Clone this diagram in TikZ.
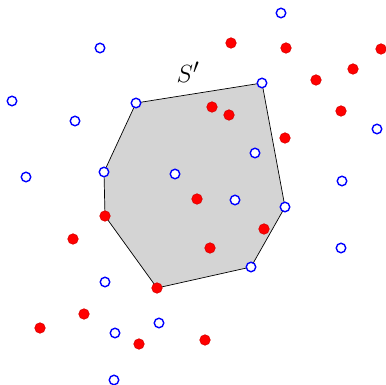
\documentclass[tikz,border=0pt]{standalone}
\begin{document}
\begin{tikzpicture}[x=1pt,y=-1pt,
  bluept/.style={circle,draw=blue,fill=white,line width=1.4pt,inner sep=0pt,minimum size=9.5pt},
  redpt/.style={circle,draw=red!85!black,fill=red,line width=0.6pt,inner sep=0pt,minimum size=10.5pt},
  hull/.style={draw=black,fill=black!17,line width=0.7pt}]
\useasboundingbox (0,0) rectangle (386,385);
% hull vertices
\coordinate (h1) at (136,103);
\coordinate (h2) at (262,83);
\coordinate (h3) at (285,207);
\coordinate (h4) at (251,267);
\coordinate (h5) at (157,288);
\coordinate (h6) at (105,216);
\coordinate (h7) at (104,172);
\path[hull] (h1) -- (h2) -- (h3) -- (h4) -- (h5) -- (h6) -- (h7) -- cycle;
\node (lbl) at (188,72) {\fontsize{29}{32}\selectfont $S'$};
% red points
\foreach \x/\y [count=\i] in {231/43,286/48,381/49,353/69,316/80,212/107,229/115,341/111,285/138,197/199,73/239,264/229,210/248,84/314,40/328,139/344,205/340}
  \node[redpt] (r\i) at (\x,\y) {};
\node[redpt] (rh6) at (h6) {};
\node[redpt] (rh5) at (h5) {};
% blue points
\foreach \x/\y [count=\i] in {100/48,12/101,75/121,26/177,175/174,281/13,255/153,377/129,342/181,235/200,341/248,105/282,159/323,115/333,114/380}
  \node[bluept] (b\i) at (\x,\y) {};
\node[bluept] (bh1) at (h1) {};
\node[bluept] (bh2) at (h2) {};
\node[bluept] (bh3) at (h3) {};
\node[bluept] (bh4) at (h4) {};
\node[bluept] (bh7) at (h7) {};
\end{tikzpicture}
\end{document}
